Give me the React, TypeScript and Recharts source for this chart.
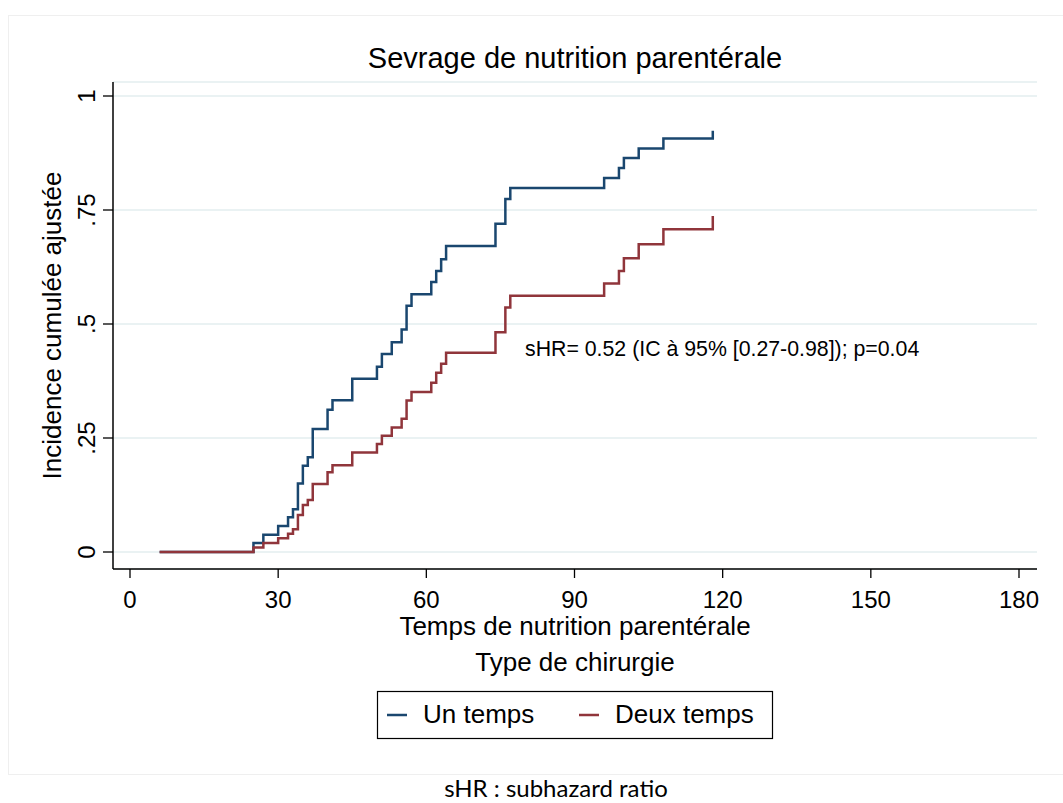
import React from "react";
import { LineChart, Line, XAxis, YAxis, CartesianGrid, Legend, Label } from "recharts";

const times = [6, 25, 27, 30, 32, 33, 34, 35, 36, 37, 40, 41, 45, 50, 51, 53, 55, 56, 57, 61, 62, 63, 64, 74, 76, 77, 96, 99, 100, 103, 108, 118];
const unTemps = [0, 0.02, 0.038, 0.057, 0.076, 0.094, 0.15, 0.189, 0.208, 0.27, 0.312, 0.333, 0.38, 0.406, 0.434, 0.46, 0.488, 0.54, 0.565, 0.592, 0.616, 0.642, 0.671, 0.72, 0.774, 0.798, 0.82, 0.842, 0.864, 0.885, 0.907, 0.924];
const deuxTemps = [0, 0.01, 0.02, 0.03, 0.04, 0.05, 0.081, 0.103, 0.114, 0.149, 0.175, 0.19, 0.218, 0.237, 0.255, 0.273, 0.292, 0.332, 0.351, 0.371, 0.393, 0.413, 0.437, 0.482, 0.536, 0.562, 0.589, 0.616, 0.644, 0.675, 0.708, 0.737];

const xTicks = [0, 30, 60, 90, 120, 150, 180];
const yTicks = [0, 0.25, 0.5, 0.75, 1];
const yTickLabels = ["0", ".25", ".5", ".75", "1"];

const BLUE = "#1a476f";
const RED = "#90353b";
const FONT = "'Liberation Sans', Arial, sans-serif";

const data = times.map((t, i) => ({ t, un: unTemps[i], deux: deuxTemps[i] }));

function YTick(props: any) {
  const { x, y, index } = props;
  return (
    <text x={x} y={y} transform={`rotate(-90 ${x} ${y})`} textAnchor="middle" fontSize={24} fontFamily={FONT} fill="#000">
      {yTickLabels[index]}
    </text>
  );
}

function LegendBox() {
  return (
    <svg width={1063} height={110} style={{ display: "block" }}>
      <text x={575} y={31} textAnchor="middle" fontSize={26} fontFamily={FONT} fill="#000">
        Type de chirurgie
      </text>
      <rect x={377.5} y={51.5} width={395} height={47} fill="#fff" stroke="#000" strokeWidth={1.2} />
      <line x1={387} x2={407} y1={75} y2={75} stroke={BLUE} strokeWidth={2.5} />
      <text x={423} y={83} fontSize={26} fontFamily={FONT} fill="#000">Un temps</text>
      <line x1={579} x2={599} y1={75} y2={75} stroke={RED} strokeWidth={2.5} />
      <text x={615} y={83} fontSize={26} fontFamily={FONT} fill="#000">Deux temps</text>
    </svg>
  );
}

export default function App() {
  return (
    <div style={{ position: "absolute", left: 0, top: 0, width: 1063, height: 803, background: "#fff", overflow: "hidden" }}>
      <svg width={1063} height={803} style={{ position: "absolute", left: 0, top: 0 }}>
        <rect x={8.5} y={15.5} width={1060} height={759} fill="none" stroke="#efefef" strokeWidth={1} />
      </svg>
      <div style={{ position: "absolute", left: 0, top: 0 }}>
        <LineChart width={1063} height={803} data={data} margin={{ top: 82, right: 26, bottom: 194, left: 53 }}>
          <CartesianGrid horizontal vertical={false} stroke="#eaf2f3" strokeWidth={2} />
          <XAxis
            dataKey="t"
            type="number"
            domain={[0, 180]}
            ticks={xTicks}
            height={40}
            padding={{ left: 17, right: 18 }}
            tickSize={9}
            tickMargin={13}
            tick={{ fontSize: 24, fontFamily: FONT, fill: "#000" }}
            tickLine={{ stroke: "#000", strokeWidth: 1.3 }}
            axisLine={{ stroke: "#000", strokeWidth: 1.5 }}
          >
            <Label
              content={(p: any) => (
                <text x={p.viewBox.x + p.viewBox.width / 2} y={p.viewBox.y + 66} textAnchor="middle" fontSize={26} fontFamily={FONT} fill="#000">
                  Temps de nutrition parentérale
                </text>
              )}
            />
          </XAxis>
          <YAxis
            type="number"
            domain={[0, 1]}
            ticks={yTicks}
            width={60}
            padding={{ top: 14, bottom: 17 }}
            tickSize={10}
            tickMargin={8}
            tick={<YTick />}
            tickLine={{ stroke: "#000", strokeWidth: 1.3 }}
            axisLine={{ stroke: "#000", strokeWidth: 1.5 }}
          >
            <Label
              content={(p: any) => {
                const cx = 61;
                const cy = p.viewBox.y + p.viewBox.height / 2;
                return (
                  <text x={cx} y={cy} transform={`rotate(-90 ${cx} ${cy})`} textAnchor="middle" fontSize={26} fontFamily={FONT} fill="#000">
                    Incidence cumulée ajustée
                  </text>
                );
              }}
            />
          </YAxis>
          <Line type="stepAfter" dataKey="un" name="Un temps" stroke={BLUE} strokeWidth={2.5} dot={false} isAnimationActive={false} />
          <Line type="stepAfter" dataKey="deux" name="Deux temps" stroke={RED} strokeWidth={2.5} dot={false} isAnimationActive={false} />
          <Legend
            layout="vertical"
            align="center"
            verticalAlign="middle"
            wrapperStyle={{ left: 0, top: 640, width: 1063, height: 110 }}
            content={() => <LegendBox />}
          />
        </LineChart>
      </div>
      <svg width={1063} height={803} style={{ position: "absolute", left: 0, top: 0, pointerEvents: "none" }}>
        <text x={575} y={68} textAnchor="middle" fontSize={29} fontFamily={FONT} fill="#000">
          Sevrage de nutrition parentérale
        </text>
        <text x={525} y={356} fontSize={21.3} fontFamily={FONT} fill="#000">
          sHR= 0.52 (IC à 95% [0.27-0.98]); p=0.04
        </text>
        <text x={556} y={797} textAnchor="middle" fontSize={24} fontFamily="Lato, 'Open Sans', sans-serif" fill="#000">
          sHR : subhazard ratio
        </text>
      </svg>
    </div>
  );
}
